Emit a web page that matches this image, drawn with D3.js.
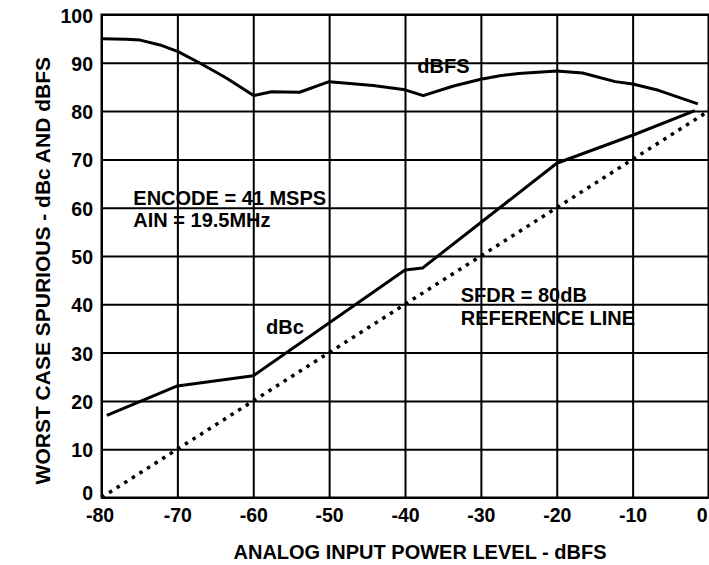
<!DOCTYPE html>
<html>
<head>
<meta charset="utf-8">
<script src="https://cdn.jsdelivr.net/npm/d3@7"></script>
<style>
  html, body { margin: 0; padding: 0; background: #fff; }
  svg { display: block; }
  text { font-family: "Liberation Sans", Arial, sans-serif; font-weight: bold; fill: #000; }
</style>
</head>
<body>
<svg id="chart" width="709" height="565"></svg>
<script>
// Input power level (dBFS) vs. worst-case spurious
const dbfsX = [-80, -76.7, -74.9, -72.3, -69.9, -67.0, -65.3, -63.5, -59.9, -57.6, -53.9, -50, -44.2, -40, -37.6, -33.6, -30, -27.5, -25, -20, -16.6, -12.3, -10, -6.6, -1.4];
const dbfsY = [95.0, 94.9, 94.7, 93.7, 92.3, 89.9, 88.4, 86.8, 83.2, 84.0, 83.9, 86.1, 85.3, 84.4, 83.2, 85.2, 86.6, 87.3, 87.8, 88.3, 87.9, 86.1, 85.6, 84.3, 81.5];

const dbcX = [-79.3, -70, -60, -40, -37.7, -20, -10, -1.8];
const dbcY = [17.0, 23.1, 25.2, 47.1, 47.5, 69.2, 75.0, 80.1];

// SFDR = 80dB reference line
const refX = [-80, 0];
const refY = [0, 80];

const xTicks = [-80, -70, -60, -50, -40, -30, -20, -10, 0];
const yTicks = [0, 10, 20, 30, 40, 50, 60, 70, 80, 90, 100];

const svg = d3.select("#chart");
const plotL = 101.5, plotR = 708.5, plotT = 14.5, plotB = 497.5;

const x = d3.scaleLinear().domain([-80, 0]).range([plotL, plotR]);
const y = d3.scaleLinear().domain([0, 100]).range([plotB, plotT]);

svg.append("rect").attr("width", 709).attr("height", 565).attr("fill", "#fff");

// grid + tick labels
const gx = svg.append("g")
  .attr("transform", `translate(0,${plotB})`)
  .call(d3.axisBottom(x).tickValues(xTicks).tickSize(-(plotB - plotT)).tickPadding(10.4).tickFormat(d => d));
gx.select(".domain").remove();
gx.selectAll("line").attr("stroke", "#000").attr("stroke-width", 2);
gx.selectAll("text").attr("font-size", 19.5).attr("fill", "#000");
gx.selectAll(".tick").filter(d => d === 0).select("text").attr("text-anchor", "end").attr("x", -1.5);
gx.selectAll(".tick").filter(d => d === -80).select("text").attr("x", -2);

const gy = svg.append("g")
  .attr("transform", `translate(${plotL},0)`)
  .call(d3.axisLeft(y).tickValues(yTicks).tickSize(-(plotR - plotL)).tickPadding(8.5).tickFormat(d => d));
gy.select(".domain").remove();
gy.selectAll("line").attr("stroke", "#000").attr("stroke-width", 2);
gy.selectAll("text").attr("font-size", 19.5).attr("dy", 7.5).attr("fill", "#000");
// lift the bottom label clear of the "-80" below it
gy.selectAll(".tick").filter(d => d === 0).select("text").attr("dy", 1.5);

// frame
svg.append("rect")
  .attr("x", plotL).attr("y", plotT)
  .attr("width", plotR - plotL).attr("height", plotB - plotT)
  .attr("fill", "none").attr("stroke", "#000").attr("stroke-width", 2);

const line = d3.line().x(d => x(d[0])).y(d => y(d[1]));

svg.append("path")
  .datum(refX.map((v, i) => [v, refY[i]]))
  .attr("d", line)
  .attr("fill", "none").attr("stroke", "#000")
  .attr("stroke-width", 3.5).attr("stroke-dasharray", "3.5,5.5");

svg.append("path")
  .datum(dbfsX.map((v, i) => [v, dbfsY[i]]))
  .attr("d", line)
  .attr("fill", "none").attr("stroke", "#000")
  .attr("stroke-width", 3).attr("stroke-linejoin", "round");

svg.append("path")
  .datum(dbcX.map((v, i) => [v, dbcY[i]]))
  .attr("d", line)
  .attr("fill", "none").attr("stroke", "#000")
  .attr("stroke-width", 3).attr("stroke-linejoin", "round");

// annotations
const notes = [
  { t: "dBFS", x: 417.3, y: 73.3 },
  { t: "dBc", x: 266, y: 334.3 },
  { t: "ENCODE = 41 MSPS", x: 133.3, y: 205 },
  { t: "AIN = 19.5MHz", x: 133.3, y: 227.3 },
  { t: "SFDR = 80dB", x: 460.7, y: 301.7 },
  { t: "REFERENCE LINE", x: 460.7, y: 325 }
];
svg.selectAll("text.note").data(notes).enter().append("text")
  .attr("class", "note")
  .attr("x", d => d.x).attr("y", d => d.y)
  .attr("font-size", 20)
  .text(d => d.t);

// axis titles
svg.append("text")
  .attr("x", 420).attr("y", 559)
  .attr("text-anchor", "middle").attr("font-size", 20)
  .text("ANALOG INPUT POWER LEVEL - dBFS");

svg.append("text")
  .attr("transform", "translate(50,270.7) rotate(-90)")
  .attr("text-anchor", "middle").attr("font-size", 21)
  .text("WORST CASE SPURIOUS - dBc AND dBFS");
</script>
</body>
</html>
